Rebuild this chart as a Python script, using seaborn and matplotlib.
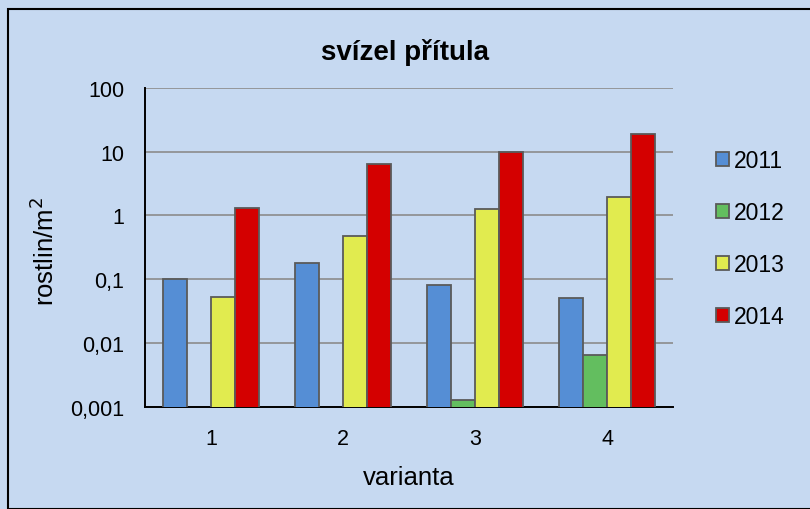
import numpy as np
import pandas as pd
import matplotlib
matplotlib.use("Agg")
import matplotlib.pyplot as plt
import seaborn as sns
from matplotlib.patches import Rectangle
from matplotlib.ticker import FixedLocator, FuncFormatter, NullFormatter

# data (rostlin/m2, log scale)
varianta = ["1", "2", "3", "4"]
years = ["2011", "2012", "2013", "2014"]
v2011 = [0.10, 0.18, 0.080, 0.051]
v2012 = [np.nan, np.nan, 0.0013, 0.0066]
v2013 = [0.053, 0.47, 1.26, 1.98]
v2014 = [1.32, 6.4, 9.9, 18.9]
colors = ["#558ED5", "#63BE5F", "#E1EB4F", "#D40000"]
ytick_vals = [0.001, 0.01, 0.1, 1, 10, 100]
ytick_text = ["0,001", "0,01", "0,1", "1", "10", "100"]

df = pd.DataFrame({"varianta": varianta * 4,
                   "rok": np.repeat(years, 4),
                   "hodnota": v2011 + v2012 + v2013 + v2014})

sns.set_style("white")
plt.rcParams["font.family"] = ["Liberation Sans", "DejaVu Sans"]
plt.rcParams["text.color"] = "black"
plt.rcParams["axes.labelcolor"] = "black"
plt.rcParams["xtick.color"] = "black"
plt.rcParams["ytick.color"] = "black"
bg = "#C6D9F1"

fig = plt.figure(figsize=(8.1, 5.1), dpi=100, facecolor=bg)
ax = fig.add_axes([0.179, 0.200, 0.652, 0.626])
ax.set_facecolor(bg)
ax.set_yscale("log")

sns.barplot(data=df, x="varianta", y="hodnota", hue="rok", hue_order=years,
            palette=colors, width=0.73, gap=0, edgecolor="#5A5A5A", linewidth=1.3,
            saturation=1, ax=ax, zorder=3)

ax.set_ylim(0.001, 100)
ax.set_xlim(-0.5, 3.5)
ax.yaxis.set_major_locator(FixedLocator(ytick_vals))
ax.yaxis.set_minor_locator(FixedLocator([]))
ax.yaxis.set_major_formatter(FuncFormatter(
    lambda v, p: dict(zip([round(t, 3) for t in ytick_vals], ytick_text)).get(round(v, 3), "")))
ax.grid(axis="y", color="#8C8C8C", linewidth=1.2, zorder=0)
ax.set_axisbelow(True)

ax.xaxis.set_minor_locator(FixedLocator([-0.5, 0.5, 1.5, 2.5, 3.5]))
ax.xaxis.set_minor_formatter(NullFormatter())
ax.tick_params(axis="x", which="major", length=0, labelsize=15.5, pad=15)
ax.tick_params(axis="x", which="minor", length=6, width=1.3, direction="out")
ax.tick_params(axis="y", which="major", length=6, width=1.3, direction="inout",
               labelsize=15.5, pad=12)

for s in ["top", "right"]:
    ax.spines[s].set_visible(False)
for s in ["left", "bottom"]:
    ax.spines[s].set_color("black")
    ax.spines[s].set_linewidth(1.4)

ax.set_xlabel("varianta", fontsize=18.5, va="center")
ax.xaxis.set_label_coords(0.5, -0.219)
ax.set_ylabel("rostlin/m$^2$", fontsize=18.5, va="center")
ax.yaxis.set_label_coords(-0.19, 0.49)
fig.text(0.5, 1 - 52 / 510, "svízel přítula", ha="center", va="center", fontsize=20, fontweight="bold")

leg = ax.legend(title=None, frameon=False, loc="center left", bbox_to_anchor=(1.042, 0.527),
                fontsize=16.5, labelspacing=1.26, handlelength=0.55, handleheight=0.55,
                handletextpad=0.25)
for h in leg.legend_handles:
    h.set_linewidth(1.3)

fig.patches.append(Rectangle((8 / 810, 0), 1.0, 1 - 10 / 510, transform=fig.transFigure,
                             fill=False, edgecolor="black", linewidth=1.5))

fig.savefig("out.png", dpi=100, facecolor=bg)
